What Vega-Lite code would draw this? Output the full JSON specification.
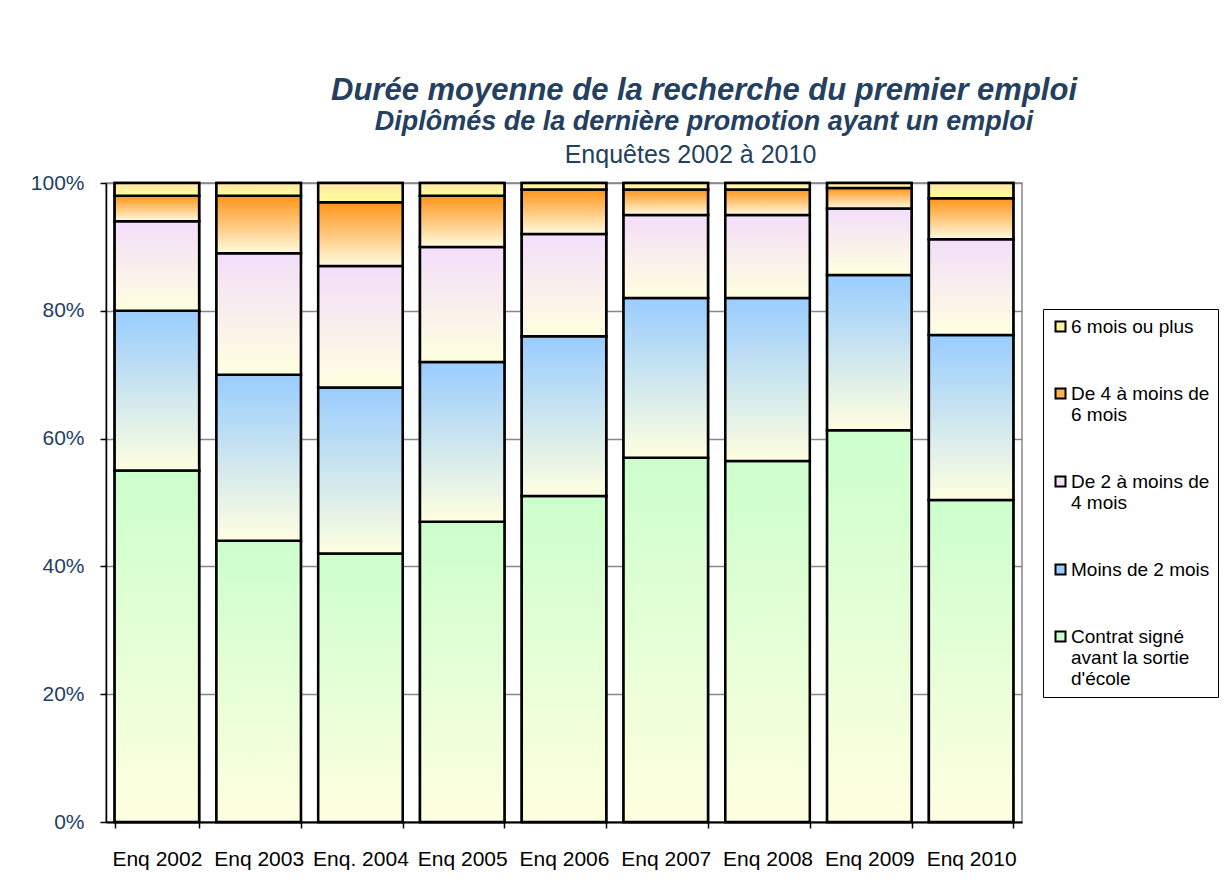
{
  "$schema": "https://vega.github.io/schema/vega-lite/v6.json",
  "width": 916,
  "height": 639,
  "autosize": {"type": "none"},
  "padding": {"left": 106, "top": 183, "right": 204, "bottom": 69},
  "background": "white",
  "config": {
    "font": "Liberation Sans",
    "view": {"stroke": "#888888", "strokeWidth": 1.5}
  },
  "title": {
    "text": "Durée moyenne de la recherche du premier emploi",
    "subtitle": "Diplômés de la dernière promotion ayant un emploi",
    "anchor": "middle",
    "dx": 140,
    "offset": 6,
    "font": "Liberation Sans",
    "fontSize": 31,
    "fontStyle": "italic",
    "fontWeight": "bold",
    "color": "#243F60",
    "subtitleFont": "Liberation Sans",
    "subtitleFontSize": 27,
    "subtitleFontStyle": "italic",
    "subtitleFontWeight": "bold",
    "subtitleColor": "#243F60",
    "subtitlePadding": 2
  },
  "resolve": {"axis": {"x": "independent"}},
  "data": {
    "values": [
      {"enq": "Enq 2002", "cat": "Contrat signé avant la sortie d'école", "ord": 1, "pct": 55},
      {"enq": "Enq 2002", "cat": "Moins de 2 mois", "ord": 2, "pct": 25},
      {"enq": "Enq 2002", "cat": "De 2 à moins de 4 mois", "ord": 3, "pct": 14},
      {"enq": "Enq 2002", "cat": "De 4 à moins de 6 mois", "ord": 4, "pct": 4},
      {"enq": "Enq 2002", "cat": "6 mois  ou plus", "ord": 5, "pct": 2},
      {"enq": "Enq 2003", "cat": "Contrat signé avant la sortie d'école", "ord": 1, "pct": 44},
      {"enq": "Enq 2003", "cat": "Moins de 2 mois", "ord": 2, "pct": 26},
      {"enq": "Enq 2003", "cat": "De 2 à moins de 4 mois", "ord": 3, "pct": 19},
      {"enq": "Enq 2003", "cat": "De 4 à moins de 6 mois", "ord": 4, "pct": 9},
      {"enq": "Enq 2003", "cat": "6 mois  ou plus", "ord": 5, "pct": 2},
      {"enq": "Enq. 2004", "cat": "Contrat signé avant la sortie d'école", "ord": 1, "pct": 42},
      {"enq": "Enq. 2004", "cat": "Moins de 2 mois", "ord": 2, "pct": 26},
      {"enq": "Enq. 2004", "cat": "De 2 à moins de 4 mois", "ord": 3, "pct": 19},
      {"enq": "Enq. 2004", "cat": "De 4 à moins de 6 mois", "ord": 4, "pct": 10},
      {"enq": "Enq. 2004", "cat": "6 mois  ou plus", "ord": 5, "pct": 3},
      {"enq": "Enq 2005", "cat": "Contrat signé avant la sortie d'école", "ord": 1, "pct": 47},
      {"enq": "Enq 2005", "cat": "Moins de 2 mois", "ord": 2, "pct": 25},
      {"enq": "Enq 2005", "cat": "De 2 à moins de 4 mois", "ord": 3, "pct": 18},
      {"enq": "Enq 2005", "cat": "De 4 à moins de 6 mois", "ord": 4, "pct": 8},
      {"enq": "Enq 2005", "cat": "6 mois  ou plus", "ord": 5, "pct": 2},
      {"enq": "Enq 2006", "cat": "Contrat signé avant la sortie d'école", "ord": 1, "pct": 51},
      {"enq": "Enq 2006", "cat": "Moins de 2 mois", "ord": 2, "pct": 25},
      {"enq": "Enq 2006", "cat": "De 2 à moins de 4 mois", "ord": 3, "pct": 16},
      {"enq": "Enq 2006", "cat": "De 4 à moins de 6 mois", "ord": 4, "pct": 7},
      {"enq": "Enq 2006", "cat": "6 mois  ou plus", "ord": 5, "pct": 1},
      {"enq": "Enq 2007", "cat": "Contrat signé avant la sortie d'école", "ord": 1, "pct": 57},
      {"enq": "Enq 2007", "cat": "Moins de 2 mois", "ord": 2, "pct": 25},
      {"enq": "Enq 2007", "cat": "De 2 à moins de 4 mois", "ord": 3, "pct": 13},
      {"enq": "Enq 2007", "cat": "De 4 à moins de 6 mois", "ord": 4, "pct": 4},
      {"enq": "Enq 2007", "cat": "6 mois  ou plus", "ord": 5, "pct": 1},
      {"enq": "Enq 2008", "cat": "Contrat signé avant la sortie d'école", "ord": 1, "pct": 56.5},
      {"enq": "Enq 2008", "cat": "Moins de 2 mois", "ord": 2, "pct": 25.5},
      {"enq": "Enq 2008", "cat": "De 2 à moins de 4 mois", "ord": 3, "pct": 13},
      {"enq": "Enq 2008", "cat": "De 4 à moins de 6 mois", "ord": 4, "pct": 4},
      {"enq": "Enq 2008", "cat": "6 mois  ou plus", "ord": 5, "pct": 1},
      {"enq": "Enq 2009", "cat": "Contrat signé avant la sortie d'école", "ord": 1, "pct": 61.3},
      {"enq": "Enq 2009", "cat": "Moins de 2 mois", "ord": 2, "pct": 24.3},
      {"enq": "Enq 2009", "cat": "De 2 à moins de 4 mois", "ord": 3, "pct": 10.4},
      {"enq": "Enq 2009", "cat": "De 4 à moins de 6 mois", "ord": 4, "pct": 3.2},
      {"enq": "Enq 2009", "cat": "6 mois  ou plus", "ord": 5, "pct": 0.8},
      {"enq": "Enq 2010", "cat": "Contrat signé avant la sortie d'école", "ord": 1, "pct": 50.4},
      {"enq": "Enq 2010", "cat": "Moins de 2 mois", "ord": 2, "pct": 25.8},
      {"enq": "Enq 2010", "cat": "De 2 à moins de 4 mois", "ord": 3, "pct": 15},
      {"enq": "Enq 2010", "cat": "De 4 à moins de 6 mois", "ord": 4, "pct": 6.4},
      {"enq": "Enq 2010", "cat": "6 mois  ou plus", "ord": 5, "pct": 2.4}
    ]
  },
  "layer": [
    {
      "mark": {"type": "bar", "stroke": "#000000", "strokeWidth": 2.5},
      "encoding": {
        "x": {
          "field": "enq",
          "type": "nominal",
          "sort": null,
          "scale": {"paddingInner": 0.17, "paddingOuter": 0.085},
          "axis": {
            "orient": "bottom",
            "title": null,
            "labelAngle": 0,
            "labelFontSize": 21,
            "labelColor": "#000000",
            "labelPadding": 20,
            "tickBand": "extent",
            "tickSize": 6,
            "tickColor": "#000000",
            "tickWidth": 1.5,
            "domainColor": "#000000",
            "domainWidth": 2,
            "grid": false
          }
        },
        "y": {
          "field": "pct",
          "type": "quantitative",
          "stack": "zero",
          "scale": {"domain": [0, 100], "nice": false},
          "axis": {
            "title": null,
            "values": [0, 20, 40, 60, 80, 100],
            "labelExpr": "datum.value + '%'",
            "labelFontSize": 21,
            "labelColor": "#243F60",
            "labelPadding": 16,
            "tickSize": 6,
            "tickColor": "#000000",
            "tickWidth": 1.5,
            "domainColor": "#000000",
            "domainWidth": 1.5,
            "grid": true,
            "gridColor": "#888888",
            "gridWidth": 1.5
          }
        },
        "order": {"field": "ord", "sort": "ascending"},
        "color": {
          "field": "cat",
          "type": "nominal",
          "scale": {
            "domain": ["6 mois  ou plus", "De 4 à moins de 6 mois", "De 2 à moins de 4 mois", "Moins de 2 mois", "Contrat signé avant la sortie d'école"],
            "range": ["#fff0a0", "#ffb050", "#f3defa", "#99ccff", "#ccffcc"]
          },
          "legend": {
            "title": null,
            "orient": "none",
            "legendX": 937,
            "legendY": 126,
            "padding": 8,
            "strokeColor": "#000000",
            "fillColor": "#ffffff",
            "symbolType": "square",
            "symbolSize": 100,
            "symbolStrokeColor": "#000000",
            "symbolStrokeWidth": 2,
            "labelFont": "Liberation Sans",
            "labelFontSize": 19,
            "labelColor": "#000000",
            "labelLineHeight": 23,
            "labelOffset": 1,
            "labelLimit": 300,
            "rowPadding": 47,
            "labelExpr": "datum.label == 'De 4 à moins de 6 mois' ? ['De 4 à moins de', '6 mois'] : datum.label == 'De 2 à moins de 4 mois' ? ['De 2 à moins de', '4 mois'] : datum.label == \"Contrat signé avant la sortie d'école\" ? ['Contrat signé', 'avant la sortie', \"d'école\"] : datum.label"
          }
        }
      }
    },
    {
      "mark": {"type": "bar", "stroke": "#000000", "strokeWidth": 2.5},
      "encoding": {
        "x": {"field": "enq", "type": "nominal", "sort": null, "axis": null},
        "y": {"field": "pct", "type": "quantitative", "stack": "zero"},
        "order": {"field": "ord", "sort": "ascending"},
        "fill": {
          "condition": [
            {"test": "datum.ord == 1", "value": {"gradient": "linear", "x1": 0, "y1": 0, "x2": 0, "y2": 1, "stops": [{"offset": 0, "color": "#ccffcc"}, {"offset": 1, "color": "#ffffe0"}]}},
            {"test": "datum.ord == 2", "value": {"gradient": "linear", "x1": 0, "y1": 0, "x2": 0, "y2": 1, "stops": [{"offset": 0, "color": "#99ccff"}, {"offset": 1, "color": "#ffffe0"}]}},
            {"test": "datum.ord == 3", "value": {"gradient": "linear", "x1": 0, "y1": 0, "x2": 0, "y2": 1, "stops": [{"offset": 0, "color": "#f3defa"}, {"offset": 1, "color": "#ffffe0"}]}},
            {"test": "datum.ord == 4", "value": {"gradient": "linear", "x1": 0, "y1": 0, "x2": 0, "y2": 1, "stops": [{"offset": 0, "color": "#ff9418"}, {"offset": 1, "color": "#fffbe0"}]}}
          ],
          "value": {"gradient": "linear", "x1": 0, "y1": 0, "x2": 0, "y2": 1, "stops": [{"offset": 0, "color": "#ffe6a8"}, {"offset": 1, "color": "#ffff99"}]}
        }
      }
    },
    {
      "mark": {"type": "point", "opacity": 0},
      "encoding": {
        "x": {
          "field": "enq",
          "type": "nominal",
          "sort": null,
          "axis": {
            "orient": "top",
            "title": "Enquêtes 2002 à 2010",
            "titleFont": "Liberation Sans",
            "titleFontSize": 25,
            "titleFontWeight": "normal",
            "titleColor": "#243F60",
            "titleX": 584,
            "titleY": -16,
            "titleAlign": "center",
            "titleBaseline": "bottom",
            "labels": false,
            "ticks": false,
            "domain": false,
            "grid": false
          }
        }
      }
    }
  ]
}
